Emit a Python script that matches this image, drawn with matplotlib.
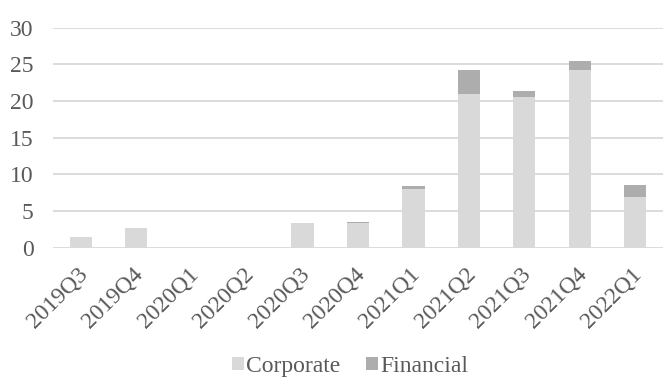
import matplotlib.pyplot as plt
import matplotlib.transforms as mtransforms
import numpy as np

# Quarterly issuance, stacked by issuer type
quarters = ["2019Q3", "2019Q4", "2020Q1", "2020Q2", "2020Q3", "2020Q4",
            "2021Q1", "2021Q2", "2021Q3", "2021Q4", "2022Q1"]
corporate = [1.4, 2.7, 0.0, 0.0, 3.3, 3.4, 8.0, 20.9, 20.5, 24.2, 6.9]
financial = [0.0, 0.0, 0.0, 0.0, 0.0, 0.15, 0.4, 3.3, 0.8, 1.2, 1.6]

yticks = [0, 5, 10, 15, 20, 25, 30]

TEXT = "#595959"
CORP_COLOR = "#D9D9D9"
FIN_COLOR = "#ADADAD"

plt.rcParams["font.family"] = ["Liberation Serif", "DejaVu Serif"]

fig = plt.figure(figsize=(6.63, 3.85), dpi=100)
ax = fig.add_axes([0.08, 0.357, 0.92, 0.571])

x = np.arange(len(quarters))
ax.bar(x, corporate, width=0.4, color=CORP_COLOR, label="Corporate", zorder=2)
ax.bar(x, financial, width=0.4, bottom=corporate, color=FIN_COLOR,
       label="Financial", zorder=2)

ax.set_xlim(-0.5, len(quarters) - 0.5)
ax.set_ylim(0, 30)
ax.set_yticks(yticks)
ax.set_xticks(x)
ax.set_xticklabels(quarters, rotation=45, ha="right", rotation_mode="anchor")

ax.grid(axis="y", color="#D9D9D9", linewidth=1.3, zorder=0)
ax.set_axisbelow(True)
for s in ax.spines.values():
    s.set_visible(False)
ax.tick_params(axis="both", length=0, labelsize=17, labelcolor=TEXT)
ax.tick_params(axis="y", pad=14)
ax.tick_params(axis="x", pad=10)

# nudge the slanted quarter labels a little to the left
shift = mtransforms.ScaledTranslation(-4 / 100, -2 / 100, fig.dpi_scale_trans)
for lbl in ax.get_xticklabels():
    lbl.set_transform(lbl.get_transform() + shift)

leg = fig.legend(loc="lower center", bbox_to_anchor=(0.528, -0.034), ncol=2,
                 frameon=False, fontsize=17, handlelength=0.5,
                 handleheight=0.5, handletextpad=0.1, columnspacing=1.1)
for t in leg.get_texts():
    t.set_color(TEXT)

fig.savefig("out.png", dpi=100)
